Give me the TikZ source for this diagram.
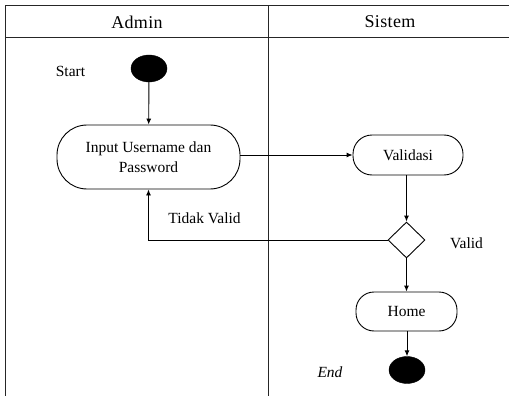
\documentclass[tikz,border=0pt]{standalone}
\usepackage{fontspec}
\setmainfont{Liberation Serif}
\usetikzlibrary{arrows.meta,shapes.geometric}
\begin{document}
\begin{tikzpicture}[x=1pt,y=-1pt,
  every node/.style={font=\fontsize{15.5}{20}\selectfont},
  lane/.style={line width=1pt,draw=black!85},
  act/.style={draw,line width=0.9pt,align=center,inner sep=0pt},
  dot/.style={ellipse,fill=black,draw=black,minimum width=36pt,minimum height=27pt,inner sep=0pt},
  dec/.style={diamond,draw,line width=0.9pt,minimum width=37pt,minimum height=36pt,inner sep=0pt,aspect=1},
  flow/.style={line width=0.9pt,-{Latex[length=6pt,width=5pt]}},
  hdr/.style={font=\fontsize{18}{20}\selectfont\addfontfeature{LetterSpace=2}}]
\useasboundingbox (0,0) rectangle (509,396);
% swimlanes
\draw[lane] (509,6) -- (5,6) -- (5,396);
\draw[lane] (5,38) -- (509,38);
\draw[lane] (268,6) -- (268,396);
\node[hdr] (hadmin) at (137,22) {Admin};
\node[hdr] (hsistem) at (390,22) {Sistem};
% nodes
\node[dot] (start) at (149,68.5) {};
\node[anchor=base] (lstart) at (70.5,77) {Start};
\node[act,minimum width=183pt,minimum height=64pt,rounded corners=30pt] (input) at (148.5,157) {Input Username dan\\Password};
\node[act,minimum width=110pt,minimum height=40pt,rounded corners=19pt] (validasi) at (408,155) {Validasi};
\node[dec] (cek) at (406.5,240) {};
\node[anchor=base] (lvalid) at (466.5,248) {Valid};
\node[anchor=base] (ltidak) at (204.5,223) {Tidak Valid};
\node[act,minimum width=101pt,minimum height=39pt,rounded corners=18pt] (home) at (406.5,311.5) {Home};
\node[dot] (end) at (407,370) {};
\node[anchor=base,font=\fontsize{15.5}{20}\selectfont\itshape] (lend) at (330,377) {End};
% connectors
\draw[flow] (start) -- (input);
\draw[flow] (input.east |- validasi.west) -- (validasi.west);
\draw[flow] (validasi.south -| cek.north) -- (cek.north);
\draw[flow] (cek.west) -| (input.south);
\draw[flow] (cek.south) -- (home.north -| cek.south);
\draw[flow] (home.south -| end.north) -- (end.north);
\end{tikzpicture}
\end{document}
